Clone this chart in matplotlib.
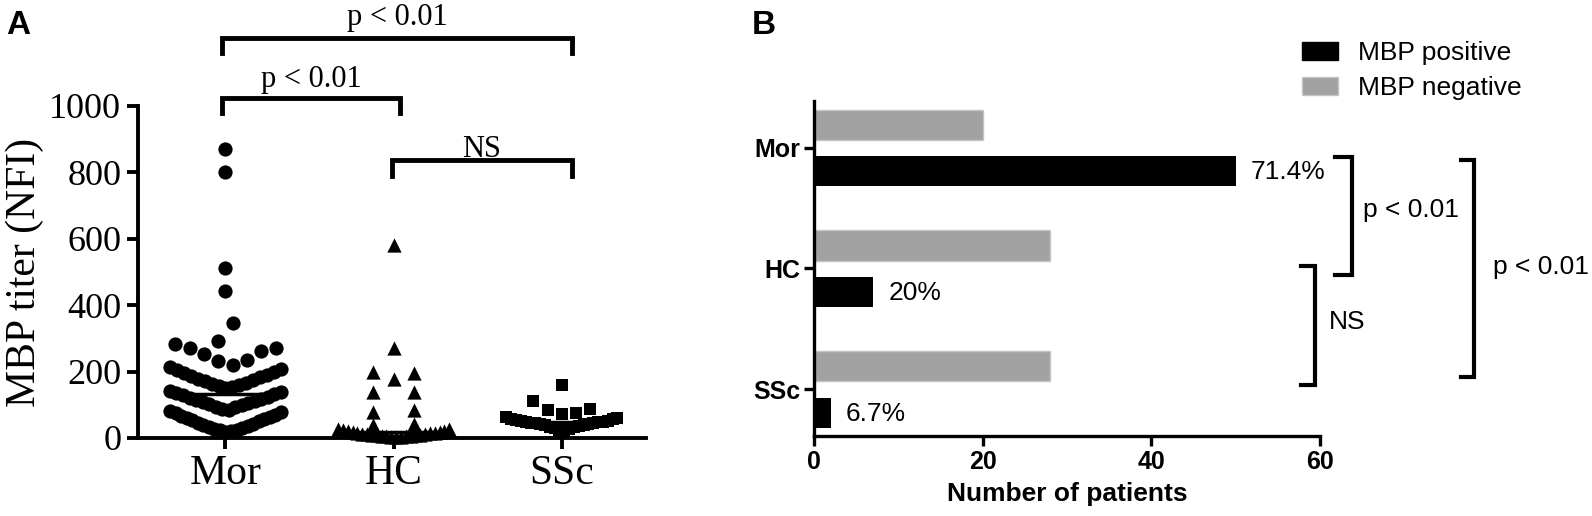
import matplotlib.pyplot as plt
import numpy as np
from matplotlib.patches import Patch

# ---- panel A: MBP titer per patient ----
groups = ["Mor", "HC", "SSc"]
mor_titer = [870, 800, 512, 442, 345, 292, 284,
             272, 262, 254, 234, 233, 221, 213, 270,
             150, 153, 157, 160, 164, 167, 171, 174, 178, 183, 186, 190, 195, 199, 204, 208,
             85, 88, 92, 94, 98, 101, 104, 108, 111, 114, 118, 121, 125, 130, 133, 137, 140, 143,
             18, 20, 23, 25, 28, 31, 33, 36, 40, 43, 46, 50, 53, 57, 60, 63, 67, 70, 74, 77, 80]
hc_titer = [582, 270, 198, 196, 178, 138, 138, 83, 78, 42, 40,
            2, 3, 4, 5, 5, 6, 7, 8, 8, 9, 10, 11, 12, 13, 14, 15, 16, 17, 18, 20,
            22, 24, 26, 28]
ssc_titer = [160, 112, 88, 83, 75, 73, 62, 60, 58, 56, 54, 52, 50, 49, 48, 47,
             46, 45, 44, 43, 42, 40, 38, 36, 34, 32, 30, 28, 25, 22]
titer_ticks = [0, 200, 400, 600, 800, 1000]

# ---- panel B: patient counts ----
mbp_positive = [50, 7, 2]
mbp_negative = [20, 28, 28]
positive_pct = ["71.4%", "20%", "6.7%"]
count_ticks = [0, 20, 40, 60]


def column_offsets(values, row_height, step, half_width=0.33, pair_slot=0.5):
    """GraphPad-like column scatter: points of a row spread out from the middle"""
    values = np.asarray(values, dtype=float)
    order = np.argsort(values)
    rows = []
    for idx in order:
        if rows and values[idx] - values[rows[-1][0]] <= row_height:
            rows[-1].append(idx)
        else:
            rows.append([idx])
    offsets = np.zeros(len(values))
    for row in rows:
        n = len(row)
        if n == 2:
            offsets[row[0]] = -pair_slot * step
            offsets[row[1]] = pair_slot * step
            continue
        gap = step if n < 3 else min(step, 2 * half_width / (n - 1))
        slots = sorted(range(n), key=lambda j: (abs(j - (n - 1) / 2), -j))
        for idx, j in zip(row, slots):
            offsets[idx] = (j - (n - 1) / 2) * gap
    return offsets


fig = plt.figure(figsize=(15.92, 5.16), dpi=100)

# ================= panel A =================
serif = ["Liberation Serif", "DejaVu Serif"]
axA = fig.add_axes([138 / 1592, 1 - 438 / 516, 508 / 1592, 332 / 516])
markers = ["o", "^", "s"]
sizes = [105, 105, 80]
row_heights = [63, 30, 45]
steps = [0.085, 0.12, 0.085]
pair_slots = [0.5, 1.0, 0.5]
for i, vals in enumerate([mor_titer, hc_titer, ssc_titer]):
    off = column_offsets(vals, row_heights[i], steps[i], pair_slot=pair_slots[i])
    axA.scatter(i + off, vals, marker=markers[i], s=sizes[i], color="black",
                linewidths=0, clip_on=False, zorder=3)
    med = np.median(vals)
    axA.plot([i - 0.335, i + 0.335], [med, med], color="black", lw=2.5,
             solid_capstyle="butt", zorder=4, clip_on=False)

axA.set_xlim(-0.52, 2.5)
axA.set_ylim(0, 1000)
axA.set_xticks(range(3))
axA.set_xticklabels(groups, family=serif, fontsize=30)
axA.set_yticks(titer_ticks)
axA.set_yticklabels([str(t) for t in titer_ticks], family=serif, fontsize=26)
axA.set_ylabel("MBP titer (NFI)", family=serif, fontsize=30, labelpad=4)
for s in ["top", "right"]:
    axA.spines[s].set_visible(False)
for s in ["left", "bottom"]:
    axA.spines[s].set_linewidth(2.8)
axA.spines["left"].set_bounds(0, 1000)
axA.tick_params(axis="both", length=8, width=2.8, direction="out", pad=4)


def bracket_down(ax, x0, x1, y, drop, label, text_y):
    ax.plot([x0, x0, x1, x1], [y - drop, y, y, y - drop], color="black",
            lw=3.5, clip_on=False, solid_joinstyle="miter")
    ax.text((x0 + x1) / 2, text_y, label, ha="center", va="baseline",
            family=serif, fontsize=22)


bracket_down(axA, -0.02, 2.06, 1206, 45, "p < 0.01", 1243)
bracket_down(axA, -0.02, 1.04, 1023, 45, "p < 0.01", 1058)
bracket_down(axA, 0.99, 2.06, 838, 48, "NS", 846)

# ================= panel B =================
sans = ["Liberation Sans", "DejaVu Sans"]
axB = fig.add_axes([814 / 1592, 1 - 436 / 516, 506 / 1592, 335 / 516])
ypos = np.arange(len(groups))
bar_h = 0.25
axB.barh(ypos - 0.19, mbp_negative, height=bar_h, color="#a2a2a2",
         edgecolor="#c4c4c4", lw=1)
axB.barh(ypos + 0.195, mbp_positive, height=bar_h, color="black")
for y, v, pct in zip(ypos, mbp_positive, positive_pct):
    axB.text(v + 1.8, y + 0.2, pct, ha="left", va="center", family=sans,
             fontsize=19)

axB.set_ylim(2.386, -0.386)
axB.set_xlim(0, 60)
axB.set_yticks(ypos)
axB.set_yticklabels(groups, family=sans, fontsize=18, fontweight="bold")
axB.set_xticks(count_ticks)
axB.set_xticklabels([str(t) for t in count_ticks], family=sans, fontsize=18,
                    fontweight="bold")
axB.set_xlabel("Number of patients", family=sans, fontsize=19,
               fontweight="bold", labelpad=6)
for s in ["top", "right"]:
    axB.spines[s].set_visible(False)
for s in ["left", "bottom"]:
    axB.spines[s].set_linewidth(2.4)
axB.tick_params(axis="both", length=7, width=2.4, direction="out", pad=3)


def bracket_left(ax, x, x_tick, y0, y1, label, lx, ly):
    ax.plot([x_tick, x, x, x_tick], [y0, y0, y1, y1], color="black", lw=3,
            clip_on=False, solid_joinstyle="miter")
    ax.text(lx, ly, label, ha="left", va="center", family=sans, fontsize=19)


bracket_left(axB, 63.8, 61.8, 0.077, 1.05, "p < 0.01", 65.1, 0.52)
bracket_left(axB, 59.4, 57.7, 0.98, 1.96, "NS", 61.0, 1.44)
bracket_left(axB, 78.3, 76.7, 0.10, 1.90, "p < 0.01", 80.5, 0.99)

handles = [Patch(facecolor="black", edgecolor="black", label="MBP positive"),
           Patch(facecolor="#a2a2a2", edgecolor="#c4c4c4", label="MBP negative")]
fig.legend(handles=handles, loc="upper left",
           bbox_to_anchor=(1302 / 1592, 1 - 41 / 516), frameon=False,
           borderpad=0, borderaxespad=0, handlelength=1.36, handleheight=0.7,
           handletextpad=0.75, labelspacing=0.42,
           prop={"family": sans, "size": 19})

# panel letters
fig.text(6 / 1592, 1 - 10 / 516, "A", ha="left", va="top", fontsize=24,
         fontweight="bold", family=sans)
fig.text(752 / 1592, 1 - 10 / 516, "B", ha="left", va="top", fontsize=24,
         fontweight="bold", family=sans)

fig.savefig("out.png", dpi=100)
